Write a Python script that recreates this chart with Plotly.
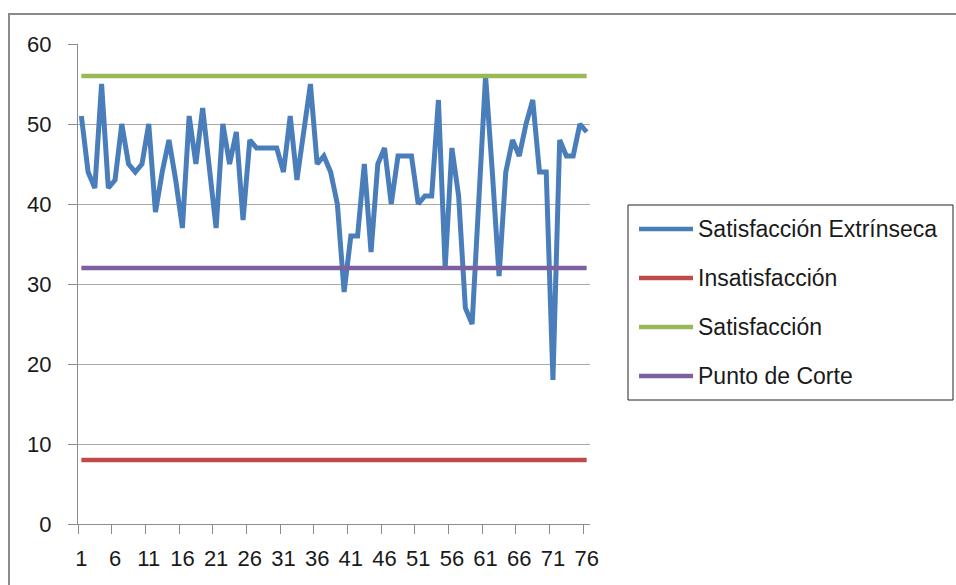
import plotly.graph_objects as go

# Puntuaciones de satisfacción extrínseca por sujeto (1..76)
sujetos = list(range(1, 77))
satisfaccion_extrinseca = [
    51, 44, 42, 55, 42, 43, 50, 45, 44, 45,
    50, 39, 44, 48, 43, 37, 51, 45, 52, 44,
    37, 50, 45, 49, 38, 48, 47, 47, 47, 47,
    44, 51, 43, 49, 55, 45, 46, 44, 40, 29,
    36, 36, 45, 34, 45, 47, 40, 46, 46, 46,
    40, 41, 41, 53, 32, 47, 41, 27, 25, 41,
    56, 44, 31, 44, 48, 46, 50, 53, 44, 44,
    18, 48, 46, 46, 50, 49,
]

# Niveles de referencia
nivel_insatisfaccion = 8
nivel_satisfaccion = 56
nivel_punto_corte = 32

x_ticks = list(range(1, 77, 5))
x_ticktext = [str(v) for v in x_ticks]
x_boundaries = [v - 0.5 for v in x_ticks]

series = [
    ("Satisfacción Extrínseca", satisfaccion_extrinseca, "#4A7EBB", 5),
    ("Insatisfacción", [nivel_insatisfaccion] * len(sujetos), "#BE4B48", 4.5),
    ("Satisfacción", [nivel_satisfaccion] * len(sujetos), "#98B954", 4.5),
    ("Punto de Corte", [nivel_punto_corte] * len(sujetos), "#7D60A0", 4.5),
]

W, H = 956, 585
L, R, T, B = 78, 366, 44, 61
PW, PH = W - L - R, H - T - B


def px_x(px):
    return (px - L) / PW


def px_y(py):
    return (H - B - py) / PH


FONT = "Liberation Sans, Arial, sans-serif"
TEXT = "#1a1a1a"
AXIS = "#8c8c8c"

fig = go.Figure()
for name, vals, color, width in series:
    fig.add_trace(go.Scatter(
        x=sujetos, y=vals, mode="lines", name=name,
        line=dict(color=color, width=width), showlegend=False,
    ))

shapes = []
annotations = []

# Marco exterior del gráfico
shapes.append(dict(type="rect", xref="paper", yref="paper",
                   x0=px_x(9), x1=px_x(990), y0=px_y(620), y1=px_y(14),
                   line=dict(color="#8a8a8a", width=2), layer="below"))

# Leyenda
shapes.append(dict(type="rect", xref="paper", yref="paper",
                   x0=px_x(628), x1=px_x(953), y0=px_y(400), y1=px_y(205),
                   line=dict(color="#222222", width=1)))
for i, (name, _, color, width) in enumerate(series):
    yy = px_y(229 + i * 49)
    shapes.append(dict(type="line", xref="paper", yref="paper",
                       x0=px_x(639), x1=px_x(693), y0=yy, y1=yy,
                       line=dict(color=color, width=4.5)))
    annotations.append(dict(xref="paper", yref="paper", x=px_x(696), y=yy,
                            text=name, showarrow=False, xanchor="left",
                            yanchor="middle",
                            font=dict(family=FONT, size=23, color=TEXT)))

fig.update_layout(
    width=W, height=H,
    margin=dict(l=L, r=R, t=T, b=B),
    paper_bgcolor="white", plot_bgcolor="white",
    font=dict(family=FONT, size=22, color=TEXT),
    shapes=shapes, annotations=annotations,
    xaxis=dict(
        range=[0.5, 76.5], tickmode="array", tickvals=x_ticks,
        ticktext=x_ticktext, ticks="", showgrid=False, zeroline=False,
        showline=True, linecolor=AXIS, linewidth=1,
        ticklabelstandoff=15,
        minor=dict(tickmode="array", tickvals=x_boundaries, ticks="outside",
                   ticklen=9, tickcolor=AXIS, tickwidth=1, showgrid=False),
        fixedrange=True,
    ),
    yaxis=dict(
        range=[0, 60], tickmode="linear", tick0=0, dtick=10,
        showgrid=True, gridcolor="#a8a8a8", gridwidth=1, zeroline=False,
        showline=True, linecolor=AXIS, linewidth=1,
        ticks="outside", ticklen=9, tickcolor=AXIS, tickwidth=1,
        ticklabelstandoff=12, fixedrange=True,
    ),
)

fig.write_html("out.html")
